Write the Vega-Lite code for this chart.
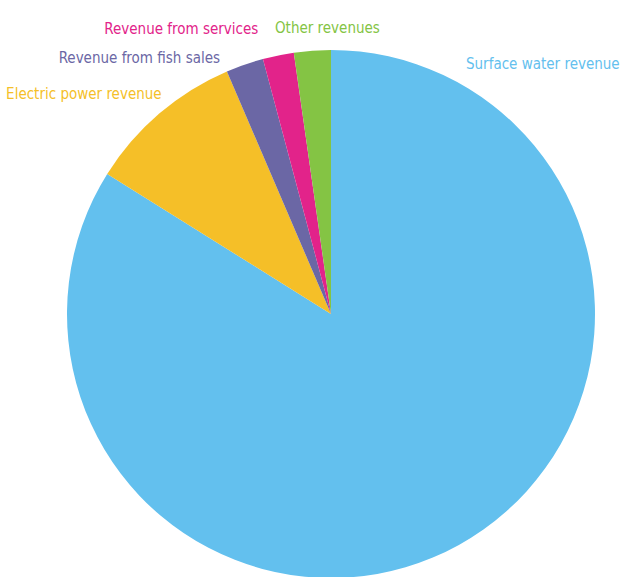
{
  "$schema": "https://vega.github.io/schema/vega-lite/v6.json",
  "width": 662,
  "height": 628,
  "autosize": "none",
  "padding": 0,
  "background": "white",
  "view": {"stroke": null},
  "data": {
    "values": [
      {"cat": "Surface water revenue", "value": 83.9, "rank": 1},
      {"cat": "Electric power revenue", "value": 9.65, "rank": 2},
      {"cat": "Revenue from fish sales", "value": 2.3, "rank": 3},
      {"cat": "Revenue from services", "value": 1.9, "rank": 4},
      {"cat": "Other revenues", "value": 2.25, "rank": 5}
    ]
  },
  "encoding": {
    "theta": {"field": "value", "type": "quantitative", "stack": true},
    "order": {"field": "rank", "type": "quantitative"},
    "color": {
      "field": "cat",
      "type": "nominal",
      "scale": {
        "domain": ["Surface water revenue", "Electric power revenue", "Revenue from fish sales", "Revenue from services", "Other revenues"],
        "range": ["#63C0EE", "#F5BF28", "#6B67A5", "#E2238A", "#84C444"]
      },
      "legend": null
    }
  },
  "layer": [
    {"mark": {"type": "arc", "outerRadius": 264}},
    {
      "mark": {
        "type": "text",
        "font": "DejaVu Sans Condensed, sans-serif",
        "fontSize": 15,
        "baseline": "alphabetic",
        "align": {"expr": "datum.cat === 'Surface water revenue' || datum.cat === 'Other revenues' ? 'left' : 'right'"},
        "radius": {"expr": "datum.cat === 'Other revenues' ? 280.7 : datum.cat === 'Revenue from services' ? 284.7 : datum.cat === 'Revenue from fish sales' ? 264.5 : datum.cat === 'Electric power revenue' ? 280.9 : 0"},
        "dx": {"expr": "datum.cat === 'Other revenues' ? -36.2 : datum.cat === 'Revenue from services' ? -15.8 : datum.cat === 'Revenue from fish sales' ? -24.5 : datum.cat === 'Electric power revenue' ? 13.4 : 135"},
        "dy": {"expr": "datum.cat === 'Surface water revenue' ? -245.5 : -1.2"}
      },
      "encoding": {"text": {"field": "cat", "type": "nominal"}}
    }
  ]
}
